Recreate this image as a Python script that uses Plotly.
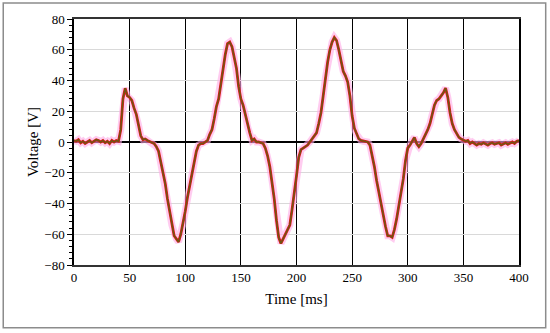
import plotly.graph_objects as go

time_ms = list(range(0, 401, 2))
voltage = [
    1, 0.5, 1.5, -0.5, 0.5, -1, 0, 1, -0.5, 0.5,
    1.5, 1, 0, 1, -0.5, 0.5, -1, 1, 0, 1,
    0.5, 8, 28, 35, 30, 29, 27, 22, 18, 11,
    4, 1.5, 2, 1, 0.5, 0, -1, -3, -6, -13,
    -20, -27, -37, -46, -54, -61, -63, -65, -60, -53,
    -45, -36, -28, -21, -13, -6, -2, -1, -1, 0,
    1, 5, 8, 15, 23, 28, 38, 48, 57, 64,
    65, 62, 55, 48, 36, 28, 24, 18, 10, 6,
    1, 2, 0, 0, -0.5, -1, -4, -9, -16, -25,
    -37, -51, -62, -66, -63, -60, -58, -54, -44, -34,
    -22, -10, -5, -4, -3, -2, 0, 2, 4, 6,
    12, 19, 30, 42, 52, 60, 65, 68, 66, 60,
    52, 46, 43, 39, 30, 17, 9, 5, 2, 1,
    0.5, 0, 0, -2, -8, -16, -25, -33, -40, -47,
    -55, -61, -61, -62, -57, -50, -42, -32, -24, -12,
    -4, -2, 1, 3, -1, -3, -1, 2, 4, 8,
    12, 18, 24, 27, 28, 30, 32, 35, 29, 19,
    12, 8, 5, 3, 2, 1, 0.5, 1, -1, 0,
    -1, -2, -1, -1.5, -0.5, -1, -2, -1, -0.5, -1.5,
    -1, -0.5, -2, -1, -0.5, -1.5, -1, 0, -1, 0.5,
    1,
]

x_ticks = [0, 50, 100, 150, 200, 250, 300, 350, 400]
y_ticks = [-80, -60, -40, -20, 0, 20, 40, 60, 80]

font = "Liberation Serif, Times New Roman, serif"

fig = go.Figure()
fig.add_trace(go.Scatter(x=time_ms, y=voltage, mode="lines",
                         line=dict(color="rgba(255,170,230,0.6)", width=7), hoverinfo="skip"))
fig.add_trace(go.Scatter(x=time_ms, y=voltage, mode="lines",
                         line=dict(color="#e01a1a", width=2.8)))
fig.add_trace(go.Scatter(x=time_ms, y=voltage, mode="lines",
                         line=dict(color="#6f5512", width=1.5)))

fig.update_layout(
    width=550, height=333,
    margin=dict(l=74, r=31, t=19, b=68),
    paper_bgcolor="white", plot_bgcolor="white",
    showlegend=False,
    font=dict(family=font, size=13, color="black"),
    shapes=[dict(type="rect", xref="paper", yref="paper",
                 x0=-0.159, x1=1.06, y0=-0.255, y1=1.065,
                 line=dict(color="#8c8c8c", width=1.5), layer="below")],
)
fig.update_xaxes(
    range=[0, 400], tickvals=x_ticks, showgrid=True, gridcolor="#000000", gridwidth=1,
    showline=True, linecolor="#333333", linewidth=1.5, mirror=True,
    ticks="", zeroline=False,
    title=dict(text="Time [ms]", font=dict(family=font, size=15), standoff=9),
    tickfont=dict(family=font, size=13),
)
fig.update_yaxes(
    range=[-80, 80], tickvals=y_ticks, showgrid=True, gridcolor="#d9d9d9", gridwidth=1,
    showline=True, linecolor="#000000", linewidth=1.5, mirror=True,
    ticks="outside", ticklen=5, tickcolor="black",
    minor=dict(dtick=4, ticks="outside", ticklen=3, tickcolor="black", showgrid=False),
    zeroline=True, zerolinecolor="black", zerolinewidth=1.5,
    title=dict(text="Voltage [V]", font=dict(family=font, size=15), standoff=2),
    tickfont=dict(family=font, size=13),
)

fig.write_html("out.html", config={"displayModeBar": False},
               post_script="document.body.style.margin='0';")
